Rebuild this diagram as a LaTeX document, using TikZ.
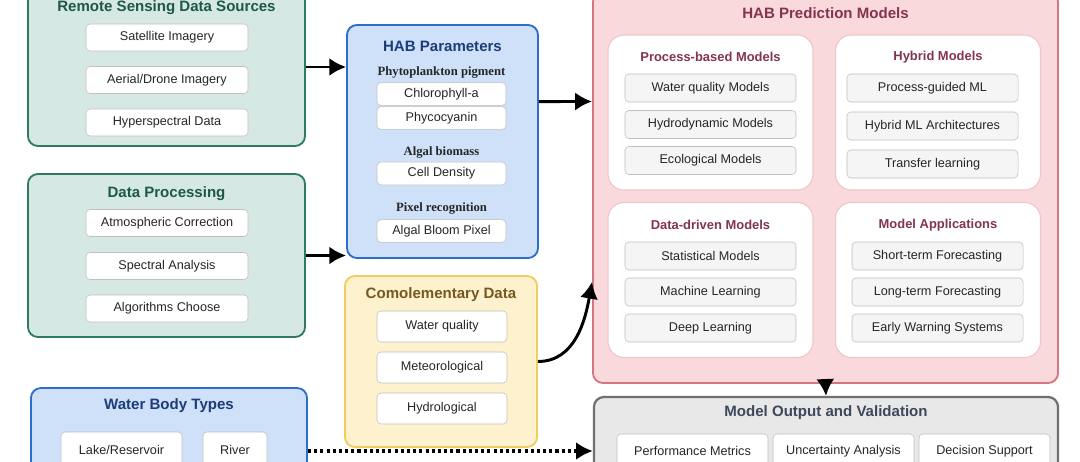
\documentclass[tikz,border=0pt]{standalone}
\usepackage{fontspec}
\setmainfont{Liberation Sans}
\newfontfamily\timesfont{Liberation Serif}
\usepackage{xcolor}
\usepackage{tikz}
\usetikzlibrary{positioning, arrows.meta, calc}

\definecolor{rsfill}{RGB}{214,232,228}
\definecolor{rsline}{RGB}{46,122,100}
\definecolor{rstext}{RGB}{30,88,72}
\definecolor{bluefill}{RGB}{207,225,248}
\definecolor{blueline}{RGB}{45,110,205}
\definecolor{bluetext}{RGB}{28,60,122}
\definecolor{yelfill}{RGB}{253,242,205}
\definecolor{yelline}{RGB}{240,205,95}
\definecolor{yeltext}{RGB}{118,88,32}
\definecolor{pinkfill}{RGB}{250,217,221}
\definecolor{pinkline}{RGB}{212,118,130}
\definecolor{pinktext}{RGB}{132,52,78}
\definecolor{subline}{RGB}{236,200,205}
\definecolor{greyfill}{RGB}{232,232,232}
\definecolor{greyline}{RGB}{112,112,112}
\definecolor{greytext}{RGB}{60,72,92}

\begin{document}
\begin{tikzpicture}[
    x=0.025cm, y=-0.025cm,
    group/.style={draw, rounded corners=0.25cm, line width=1.3pt, inner sep=0},
    sub/.style={draw=subline, fill=white, rounded corners=0.4cm, line width=0.8pt, minimum width=5.125cm, minimum height=3.875cm},
    item/.style={draw=black!25, fill=white, rounded corners=0.1cm, inner sep=0, font=\fontsize{9}{11}\selectfont, text=black!85},
    leftitem/.style={item, minimum width=4.05cm, minimum height=0.675cm},
    paritem/.style={item, minimum width=3.225cm, minimum height=0.57cm},
    compitem/.style={item, minimum width=3.25cm, minimum height=0.775cm},
    modelitem/.style={item, fill=black!4, minimum width=4.275cm, minimum height=0.7cm},
    outitem/.style={item, minimum height=0.85cm},
    title/.style={font=\fontsize{10.7}{13}\selectfont\bfseries},
    subtitle/.style={font=\fontsize{9.2}{11}\selectfont\bfseries, text=pinktext},
    label/.style={font=\timesfont\fontsize{9}{11}\selectfont\bfseries, text=black!85},
    arrow/.style={-{Latex[length=0.42cm, width=0.45cm]}, line width=2.1pt}
]
\clip (0,0) rectangle (1080,461);

% --- LEFT COLUMN ---
\node[group, fill=rsfill, draw=rsline, minimum width=6.925cm, minimum height=3.95cm] (rs) at (166.5,67) {};
\node[title, text=rstext] (rstitle) at (166.5,8) {Remote Sensing Data Sources};
\node[leftitem] (sat) at (167,37.5) {Satellite Imagery};
\node[leftitem] (aer) at (167,80) {Aerial/Drone Imagery};
\node[leftitem] (hyp) at (167,122.5) {Hyperspectral Data};

\node[group, fill=rsfill, draw=rsline, minimum width=6.925cm, minimum height=4.075cm] (dp) at (166.5,255.5) {};
\node[title, text=rstext] (dptitle) at (166.5,194) {Data Processing};
\node[leftitem] (atm) at (167,223) {Atmospheric Correction};
\node[leftitem] (spe) at (167,266) {Spectral Analysis};
\node[leftitem] (alg) at (167,308.5) {Algorithms Choose};

\node[group, fill=bluefill, draw=blueline, minimum width=6.9cm, minimum height=3.15cm] (wb) at (169,451) {};
\node[title, text=bluetext] (wbtitle) at (169,406) {Water Body Types};
\node[item, minimum width=3.025cm, minimum height=0.9cm] (lake) at (121.5,450) {Lake/Reservoir};
\node[item, minimum width=1.6cm, minimum height=0.9cm] (river) at (235,450) {River};

% --- MIDDLE COLUMN ---
\node[group, fill=bluefill, draw=blueline, minimum width=4.775cm, minimum height=5.825cm] (hp) at (442.5,141.5) {};
\node[title, text=bluetext] (hptitle) at (442.5,46) {HAB Parameters};
\node[label] (pig) at (441.5,73) {Phytoplankton pigment};
\node[paritem] (chl) at (441.5,94) {Chlorophyll-a};
\node[paritem] (phy) at (441.5,118) {Phycocyanin};
\node[label] (bio) at (441.5,153) {Algal biomass};
\node[paritem] (cell) at (441.5,173.5) {Cell Density};
\node[label] (pix) at (441.5,209) {Pixel recognition};
\node[paritem] (bloom) at (441.5,231) {Algal Bloom Pixel};

\node[group, fill=yelfill, draw=yelline, minimum width=4.8cm, minimum height=4.275cm] (cd) at (441,361.5) {};
\node[title, text=yeltext] (cdtitle) at (441,295) {Comolementary Data};
\node[compitem] (wq) at (442,326.5) {Water quality};
\node[compitem] (met) at (442,367.5) {Meteorological};
\node[compitem] (hyd) at (442,408.5) {Hydrological};

% --- PREDICTION MODELS ---
\node[group, fill=pinkfill, draw=pinkline, minimum width=11.625cm, minimum height=9.775cm] (pm) at (825.5,187.5) {};
\node[title, text=pinktext] (pmtitle) at (825.5,13) {HAB Prediction Models};

\node[sub] (pb) at (710.5,112.5) {};
\node[subtitle] (pbtitle) at (710.5,57) {Process-based Models};
\node[modelitem] (wqm) at (710.5,88) {Water quality Models};
\node[modelitem] (hdm) at (710.5,124.5) {Hydrodynamic Models};
\node[modelitem] (eco) at (710.5,160.5) {Ecological Models};

\node[sub] (hy) at (938,112.5) {};
\node[subtitle] (hytitle) at (938,57) {Hybrid Models};
\node[modelitem] (pgml) at (932.5,88) {Process-guided ML};
\node[modelitem] (hml) at (932.5,126) {Hybrid ML Architectures};
\node[modelitem] (tl) at (932.5,164) {Transfer learning};

\node[sub] (dd) at (710.5,280) {};
\node[subtitle] (ddtitle) at (710.5,225) {Data-driven Models};
\node[modelitem] (stat) at (710.5,256) {Statistical Models};
\node[modelitem] (ml) at (710.5,292) {Machine Learning};
\node[modelitem] (dl) at (710.5,328) {Deep Learning};

\node[sub] (ma) at (938,280) {};
\node[subtitle] (matitle) at (938,225) {Model Applications};
\node[modelitem] (stf) at (937.5,256) {Short-term Forecasting};
\node[modelitem] (ltf) at (937.5,292) {Long-term Forecasting};
\node[modelitem] (ews) at (937.5,328) {Early Warning Systems};

% --- OUTPUT ---
\node[group, fill=greyfill, draw=greyline, line width=1.6pt, minimum width=11.6cm, minimum height=2.7cm] (mo) at (826,451) {};
\node[title, text=greytext] (motitle) at (826,413) {Model Output and Validation};
\node[outitem, minimum width=3.775cm] (perf) at (692.5,451) {Performance Metrics};
\node[outitem, minimum width=3.525cm] (unc) at (843.5,451) {Uncertainty Analysis};
\node[outitem, minimum width=3.275cm] (dec) at (984.5,451) {Decision Support};

% --- FLOW ARROWS ---
\draw[arrow] (rs.east) -- (rs.east -| hp.west);
\draw[arrow] (dp.east) -- (dp.east -| hp.west);
\draw[arrow] ($(hp.north east)!0.33!(hp.south east)$) -- ($(pm.north west)!0.281!(pm.south west)$);
\draw[arrow] (cd.east) to[out=0, in=-100] ($(pm.south west)!0.26!(pm.north west)$);
\draw[arrow] (pm.south) -- (mo.north);
\draw[arrow, line width=2.3pt, dash pattern=on 2.2pt off 2.2pt] (wb.east) -- (mo.west);
\end{tikzpicture}
\end{document}
